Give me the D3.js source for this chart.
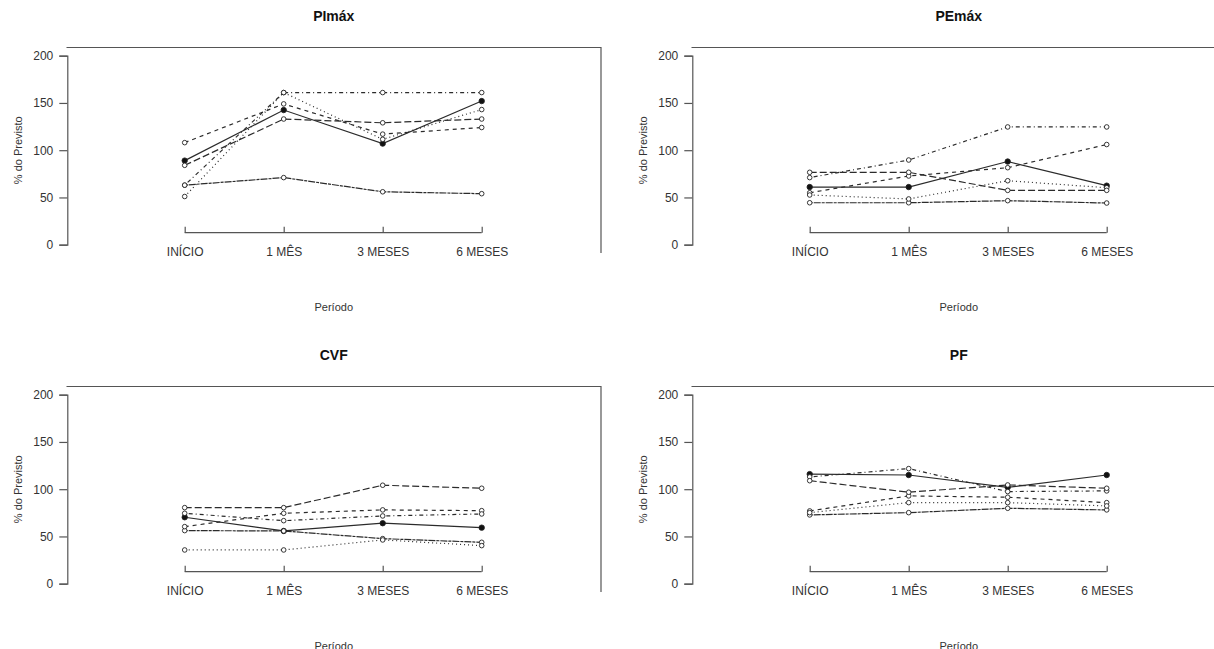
<!DOCTYPE html>
<html>
<head>
<meta charset="utf-8">
<script src="https://cdnjs.cloudflare.com/ajax/libs/d3/7.8.5/d3.min.js"></script>
<style>
  body { margin: 0; background: #fff; }
  text { font-family: "Liberation Sans", Arial, sans-serif; fill: #333; }
</style>
</head>
<body>
<div id="chart"></div>
<script>
// categorias do eixo x e ticks do eixo y
var periods = ["INÍCIO", "1 MÊS", "3 MESES", "6 MESES"];
var yTicks = [0, 50, 100, 150, 200];
var titles = ["PImáx", "PEmáx", "CVF", "PF"];

// um array por paciente (% do previsto)
// ordem: solido/cheio, solido, tracejado, pontilhado, ponto-traço, traço longo
var pimax = [
  [89, 142.5, 107, 152],
  [63, 71, 56, 54],
  [108, 149, 117, 124],
  [51, 161, 111.5, 143],
  [63, 161, 161, 161],
  [84, 133, 129, 133]
];
var pemax = [
  [61, 61, 88, 62.5],
  [44.4, 44.4, 46.6, 44.1],
  [55, 72.7, 81.5, 106],
  [52.6, 48.4, 67.7, 60.3],
  [71, 89.6, 124.6, 124.6],
  [76.6, 76.6, 57.5, 57.5]
];
var cvf = [
  [70.3, 55.8, 64, 59.3],
  [56.2, 55.8, 47.7, 43.8],
  [60.4, 74.5, 78.1, 77.3],
  [35.7, 35.7, 46.3, 40.3],
  [74.5, 66.7, 71.7, 73.8],
  [80.5, 80.5, 104.2, 101]
];
var pf = [
  [116, 115, 102, 115],
  [72.8, 75.2, 79.8, 78.1],
  [77, 92.9, 91.5, 85.8],
  [75.2, 85.8, 85.8, 82.3],
  [113, 121.8, 97.5, 98.2],
  [109, 96.8, 104.5, 101]
];
var panels = [pimax, pemax, cvf, pf];

var dashes = [null, "3,1,7,1", "4,4", "1,3", "1,3,4,3", "7,3"];
var ink = "#2b2b2b";
var axisColor = "#555";

var width = 1214, height = 649;
var svg = d3.select("#chart").append("svg")
  .attr("width", width)
  .attr("height", height);

// posição de cada painel (grade 2x2)
var colOffset = [0, 625];
var rowOffset = [0, 339];

function drawPanel(g, data, title) {
  var box = { left: 66.5, right: 601, top: 47.5, bottom: 253 };

  var x = d3.scalePoint().domain(periods).range([184.7, 481.7]);
  var y = d3.scaleLinear().domain([0, 200]).range([244.7, 55.7]);

  // caixa tipo bty="7": topo e lado direito
  g.append("path")
    .attr("d", "M" + box.left + "," + box.top + "H" + box.right + "V" + box.bottom)
    .attr("fill", "none")
    .attr("stroke", axisColor)
    .attr("stroke-width", 1.2);

  // eixo y
  var yAxis = g.append("g")
    .attr("transform", "translate(67.3,0)")
    .call(d3.axisLeft(y).tickValues(yTicks).tickSize(8).tickPadding(6));
  yAxis.select(".domain").attr("stroke", axisColor).attr("stroke-width", 1.2);
  yAxis.selectAll(".tick line").attr("stroke", axisColor).attr("stroke-width", 1.2);
  yAxis.selectAll("text").attr("font-size", 12).attr("fill", "#333")
    .attr("font-family", "Liberation Sans, Arial, sans-serif");

  // eixo x (ticks para cima)
  var xAxis = g.append("g")
    .attr("transform", "translate(0,232.7)")
    .call(d3.axisBottom(x).tickSizeInner(-6).tickSizeOuter(0).tickPadding(0));
  xAxis.select(".domain").attr("stroke", axisColor).attr("stroke-width", 1.2)
    .attr("d", "M" + x(periods[0]) + ",0H" + x(periods[periods.length - 1]));
  xAxis.selectAll(".tick line").attr("stroke", axisColor).attr("stroke-width", 1.2);
  xAxis.selectAll("text")
    .attr("y", 23)
    .attr("dy", null)
    .attr("font-size", 12)
    .attr("fill", "#333")
    .attr("font-family", "Liberation Sans, Arial, sans-serif");

  // títulos
  g.append("text")
    .attr("x", (box.left + box.right) / 2)
    .attr("y", 21)
    .attr("text-anchor", "middle")
    .attr("font-size", 14)
    .attr("font-weight", "bold")
    .style("fill", "#111")
    .text(title);

  g.append("text")
    .attr("x", (box.left + box.right) / 2)
    .attr("y", 311)
    .attr("text-anchor", "middle")
    .attr("font-size", 11)
    .text("Período");

  g.append("text")
    .attr("transform", "translate(22," + ((box.top + box.bottom) / 2) + ") rotate(-90)")
    .attr("text-anchor", "middle")
    .attr("font-size", 11)
    .text("% do Previsto");

  var line = d3.line()
    .x(function (d, i) { return x(periods[i]); })
    .y(function (d) { return y(d); });

  // linhas de cada paciente
  g.append("g").selectAll("path")
    .data(data)
    .enter().append("path")
    .attr("d", line)
    .attr("fill", "none")
    .attr("stroke", ink)
    .attr("stroke-width", 1.2)
    .attr("stroke-dasharray", function (d, i) { return dashes[i]; });

  // marcadores
  data.forEach(function (serie, s) {
    g.append("g").selectAll("circle")
      .data(serie)
      .enter().append("circle")
      .attr("cx", function (d, i) { return x(periods[i]); })
      .attr("cy", function (d) { return y(d); })
      .attr("r", s === 0 ? 2.7 : 2.3)
      .attr("fill", s === 0 ? "#111" : "#fff")
      .attr("stroke", "#222")
      .attr("stroke-width", 0.9);
  });
}

panels.forEach(function (data, k) {
  var g = svg.append("g")
    .attr("transform", "translate(" + colOffset[k % 2] + "," + rowOffset[Math.floor(k / 2)] + ")");
  drawPanel(g, data, titles[k]);
});
</script>
</body>
</html>
